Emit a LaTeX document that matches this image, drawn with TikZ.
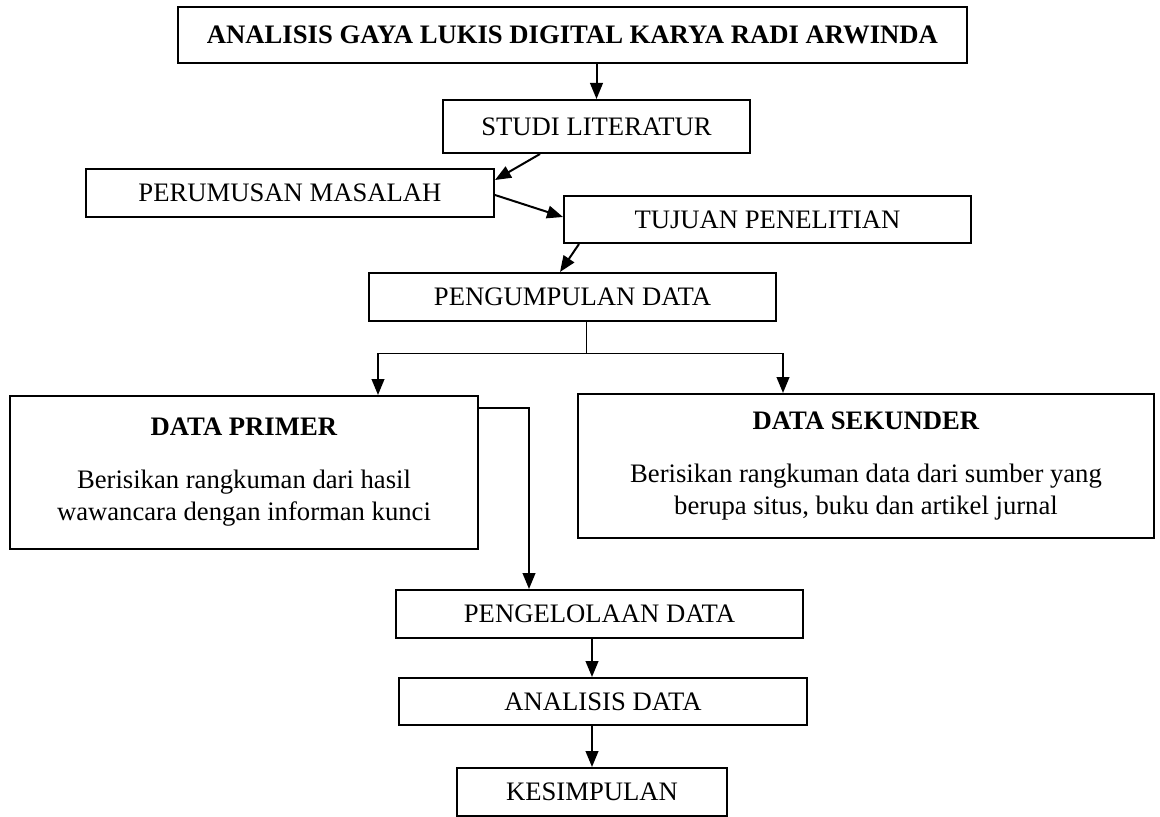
\documentclass[tikz,border=0pt]{standalone}
\usepackage{fontspec}
\setmainfont{Liberation Serif}
\usetikzlibrary{arrows.meta,calc}
\begin{document}
\begin{tikzpicture}[x=0.75pt,y=-0.75pt,
  box/.style={draw,line width=1.5pt,inner sep=0pt,align=center,
    font=\fontsize{20}{24}\selectfont},
  arr/.style={line width=1.5pt,-{Triangle[length=12pt,width=9.5pt]}},
  thinline/.style={line width=0.75pt}]
\fill[white] (0,0) rectangle (1160,817);
\useasboundingbox (0,0) rectangle (1160,817);

\node[box,line width=1.9pt,minimum width=591.75pt,minimum height=42pt,font=\fontsize{20}{24}\selectfont\bfseries] (title) at (572.5,35) {ANALISIS GAYA LUKIS DIGITAL KARYA RADI ARWINDA};
\node[box,minimum width=230.25pt,minimum height=39.75pt] (studi) at (596.5,126.5) {STUDI LITERATUR};
\node[box,minimum width=306pt,minimum height=36pt] (rumus) at (290,193) {PERUMUSAN MASALAH};
\node[box,minimum width=305.25pt,minimum height=35.25pt] (tujuan) at (767.5,219.5) {TUJUAN PENELITIAN};
\node[box,minimum width=305.25pt,minimum height=36pt] (kumpul) at (572.5,297) {PENGUMPULAN DATA};
\node[box,minimum width=351pt,minimum height=114.75pt] (primer) at (244,472.5)
  {\textbf{DATA PRIMER}\\[15.75pt]Berisikan rangkuman dari hasil\\wawancara dengan informan kunci};
\node[box,minimum width=432pt,minimum height=108pt] (sekunder) at (866,466)
  {\textbf{DATA SEKUNDER}\\[15.75pt]Berisikan rangkuman data dari sumber yang\\berupa situs, buku dan artikel jurnal};
\node[box,minimum width=305.25pt,minimum height=36pt] (kelola) at (599.5,614) {PENGELOLAAN DATA};
\node[box,minimum width=306pt,minimum height=35.25pt] (analisis) at (603,701.5) {ANALISIS DATA};
\node[box,minimum width=202.5pt,minimum height=36pt] (simpul) at (592,792) {KESIMPULAN};

\coordinate (bl) at (378,353);
\coordinate (br) at (783,353);

\draw[arr] (title.south -| studi.north) -- (studi.north);
\draw[arr] ($(studi.south west)+(98,0)$) -- ($(rumus.north east)+(0,12)$);
\draw[arr] ($(rumus.north east)+(0,27)$) -- ($(tujuan.north west)+(0,22)$);
\draw[arr] ($(tujuan.south west)+(16,0)$) -- ($(kumpul.north west)+(192,0)$);
\draw[thinline] ($(kumpul.south)+(13.5,0)$) -- ($(kumpul.south)+(13.5,32)$);
\draw[thinline] (bl) -- (br);
\draw[arr] (bl) -- (bl |- primer.north);
\draw[arr] (br) -- (br |- sekunder.north);
\draw[arr,line join=miter] ($(primer.north east)+(0,13)$) -| ($(kelola.north west)+(134,0)$);
\draw[arr] ($(kelola.south)+(-7.5,0)$) -- ($(analisis.north)+(-11,0)$);
\draw[arr] ($(analisis.south)+(-11,0)$) -- (simpul.north);
\end{tikzpicture}
\end{document}
